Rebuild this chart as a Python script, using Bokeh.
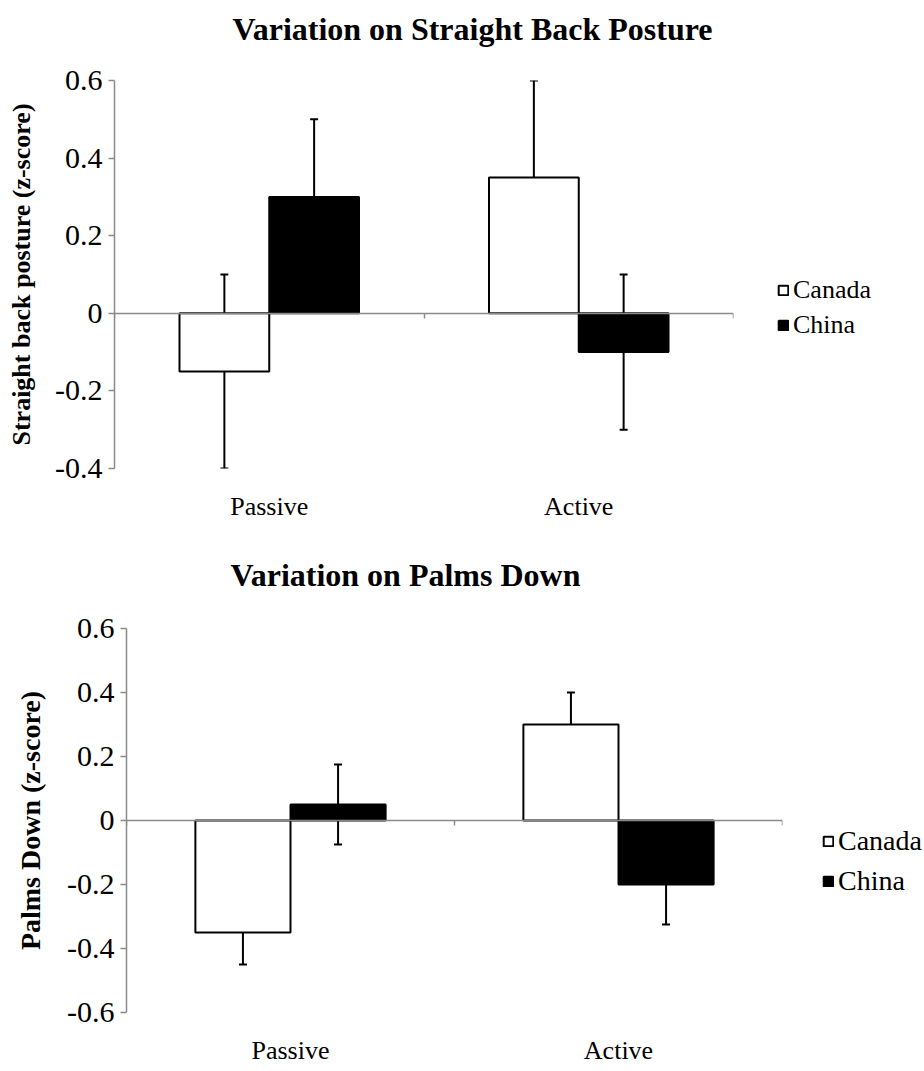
import numpy as np
from bokeh.plotting import figure
from bokeh.models import (Range1d, LinearAxis, FixedTicker, ColumnDataSource,
                          Whisker, TeeHead, Legend, LegendItem, CustomLabelingPolicy, Spacer)
from bokeh.layouts import column, row
from bokeh.embed import file_html
from bokeh.resources import INLINE

categories = ["Passive", "Active"]
groups = ["Canada", "China"]

straight_title = "Variation on Straight Back Posture"
straight_ylabel = "Straight back posture (z-score)"
straight_canada = [-0.15, 0.35]
straight_canada_err = [0.25, 0.25]
straight_china = [0.30, -0.10]
straight_china_err = [0.20, 0.20]
straight_ticks = [-0.4, -0.2, 0, 0.2, 0.4, 0.6]
straight_tick_labels = ["-0.4", "-0.2", "0", "0.2", "0.4", "0.6"]

palms_title = "Variation on Palms Down"
palms_ylabel = "Palms Down (z-score)"
palms_canada = [-0.35, 0.30]
palms_canada_err = [0.10, 0.10]
palms_china = [0.05, -0.20]
palms_china_err = [0.125, 0.125]
palms_ticks = [-0.6, -0.4, -0.2, 0, 0.2, 0.4, 0.6]
palms_tick_labels = ["-0.6", "-0.4", "-0.2", "0", "0.2", "0.4", "0.6"]

FONT = "Liberation Serif"
AXIS_GRAY = "#8a8a8a"
WIDTH = 924


def make_title(text, left_offset, standoff):
    t = figure(frame_width=WIDTH, frame_height=1,
               min_border_left=0, min_border_right=0, min_border_top=0, min_border_bottom=0,
               x_axis_location=None, y_axis_location=None,
               output_backend="svg", toolbar_location=None)
    t.outline_line_color = None
    t.xgrid.visible = False
    t.ygrid.visible = False
    t.title.text = text
    t.title.text_font = FONT
    t.title.text_font_size = "32px"
    t.title.text_font_style = "bold"
    t.title.text_color = "black"
    t.title.align = "left"
    t.title.offset = left_offset
    t.title.standoff = standoff
    return t


def make_panel(ylabel, canada, canada_err, china, china_err, ticks, tick_labels,
               frame_w, frame_h, left, right, top, bottom,
               ylabel_size, ylabel_standoff, tick_size, cat_standoff,
               legend_loc, legend_size, legend_spacing):
    n = len(categories)
    centers = np.arange(n) + 0.5
    bw = 0.29
    p = figure(frame_width=frame_w, frame_height=frame_h,
               min_border_left=left, min_border_right=right,
               min_border_top=top, min_border_bottom=bottom,
               x_range=Range1d(0, n), y_range=Range1d(ticks[0], ticks[-1]),
               x_axis_location=None, y_axis_location=None, title_location=None,
               output_backend="svg", toolbar_location=None)
    p.outline_line_color = None
    p.xgrid.visible = False
    p.ygrid.visible = False

    # y axis
    yaxis = LinearAxis(ticker=FixedTicker(ticks=ticks),
                       major_label_overrides={t: l for t, l in zip(ticks, tick_labels)})
    yaxis.axis_label = ylabel
    yaxis.axis_label_text_font = FONT
    yaxis.axis_label_text_font_style = "bold"
    yaxis.axis_label_text_font_size = ylabel_size
    yaxis.axis_label_text_color = "black"
    yaxis.axis_label_standoff = ylabel_standoff
    yaxis.major_label_text_font = FONT
    yaxis.major_label_text_font_size = tick_size
    yaxis.major_label_text_color = "black"
    yaxis.major_label_standoff = 6
    yaxis.axis_line_color = AXIS_GRAY
    yaxis.axis_line_width = 1.5
    yaxis.major_tick_line_color = AXIS_GRAY
    yaxis.major_tick_line_width = 1.5
    yaxis.major_tick_in = 0
    yaxis.major_tick_out = 6
    yaxis.minor_tick_line_color = None
    p.add_layout(yaxis, "left")

    # category labels
    cat_axis = LinearAxis(ticker=FixedTicker(ticks=list(centers)),
                          major_label_overrides={float(c): cat for c, cat in zip(centers, categories)})
    cat_axis.axis_line_color = None
    cat_axis.major_tick_line_color = None
    cat_axis.minor_tick_line_color = None
    cat_axis.major_tick_out = 0
    cat_axis.major_tick_in = 0
    cat_axis.major_label_standoff = cat_standoff
    cat_axis.major_label_text_font = FONT
    cat_axis.major_label_text_font_size = "26px"
    cat_axis.major_label_text_color = "black"
    p.add_layout(cat_axis, "below")

    # zero baseline axis (ticks at category boundaries, no labels)
    zero_axis = LinearAxis(fixed_location=0, ticker=FixedTicker(ticks=list(range(n + 1))),
                           major_label_policy=CustomLabelingPolicy(
                               code="for (const i of Array.from(indices)) indices.unset(i); return indices"))
    zero_axis.axis_line_color = AXIS_GRAY
    zero_axis.axis_line_width = 1.5
    zero_axis.major_tick_line_color = AXIS_GRAY
    zero_axis.major_tick_line_width = 1.5
    zero_axis.major_tick_in = 0
    zero_axis.major_tick_out = 5
    zero_axis.minor_tick_line_color = None
    zero_axis.major_label_standoff = 0
    p.add_layout(zero_axis, "below")

    src_ca = ColumnDataSource(dict(x=centers - bw / 2, top=canada,
                                   upper=np.array(canada) + np.array(canada_err),
                                   lower=np.array(canada) - np.array(canada_err)))
    src_cn = ColumnDataSource(dict(x=centers + bw / 2, top=china,
                                   upper=np.array(china) + np.array(china_err),
                                   lower=np.array(china) - np.array(china_err)))

    r_ca = p.vbar(x="x", top="top", bottom=0, width=bw, source=src_ca,
                  fill_color="white", line_color="black", line_width=2)
    r_cn = p.vbar(x="x", top="top", bottom=0, width=bw, source=src_cn,
                  fill_color="black", line_color="black", line_width=2)

    for src in (src_ca, src_cn):
        w = Whisker(source=src, base="x", upper="upper", lower="lower",
                    line_color="black", line_width=2,
                    upper_head=TeeHead(size=8, line_color="black", line_width=2),
                    lower_head=TeeHead(size=8, line_color="black", line_width=2))
        p.add_layout(w)

    legend = Legend(items=[LegendItem(label=groups[0], renderers=[r_ca]),
                           LegendItem(label=groups[1], renderers=[r_cn])],
                    location=legend_loc)
    legend.label_text_font = FONT
    legend.label_text_font_size = legend_size
    legend.label_text_color = "black"
    legend.glyph_width = 12
    legend.glyph_height = 12
    legend.label_standoff = 4
    legend.spacing = legend_spacing
    legend.padding = 0
    legend.margin = 0
    legend.border_line_color = None
    legend.background_fill_alpha = 0
    p.add_layout(legend, "right")
    return p


t1 = make_title(straight_title, 232, 17)
p1 = make_panel(straight_ylabel, straight_canada, straight_canada_err,
                straight_china, straight_china_err, straight_ticks, straight_tick_labels,
                frame_w=619, frame_h=388, left=114, right=191, top=24, bottom=81,
                ylabel_size="26px", ylabel_standoff=16, tick_size="30px",
                cat_standoff=23, legend_loc=(44, 128), legend_size="26px", legend_spacing=5)

t2 = make_title(palms_title, 230, 11)
p2 = make_panel(palms_ylabel, palms_canada, palms_canada_err,
                palms_china, palms_china_err, palms_ticks, palms_tick_labels,
                frame_w=656, frame_h=384, left=126, right=142, top=29, bottom=57,
                ylabel_size="28px", ylabel_standoff=18, tick_size="30px",
                cat_standoff=23, legend_loc=(40, 115), legend_size="28px", legend_spacing=8)


def wrap(fig):
    return row(Spacer(width=0, height=1), fig)


layout = column(wrap(t1), wrap(p1), wrap(t2), wrap(p2), spacing=0)
open("out.html", "w").write(file_html(layout, INLINE))
